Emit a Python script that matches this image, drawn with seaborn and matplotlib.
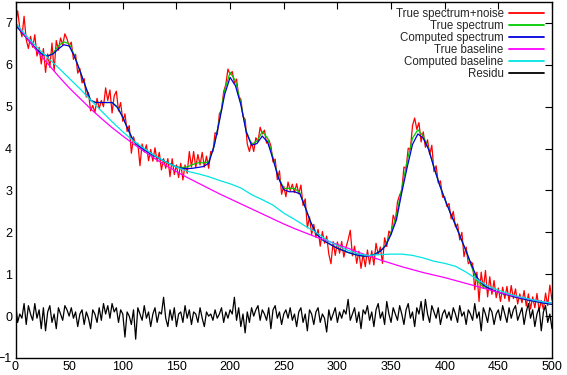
import numpy as np
import pandas as pd
import matplotlib
matplotlib.use("Agg")
import matplotlib.pyplot as plt
import seaborn as sns

sns.set_theme(style="white")
plt.rcParams["font.family"] = ["Liberation Sans", "DejaVu Sans"]

# sample positions (channels)
x_fine = np.arange(0, 501, 2)
x_mid = np.arange(0, 501, 5)
x_base = np.arange(0, 501, 10)

# true spectrum + noise, every 2 channels
noisy = [
    7.00, 7.29, 6.88, 6.67, 7.16, 6.60, 6.39, 6.68, 6.42, 6.72,
    6.21, 6.42, 6.02, 6.39, 5.82, 6.26, 5.94, 6.52, 5.86, 6.58,
    6.35, 6.64, 6.48, 6.74, 6.62, 6.45, 6.54, 6.13, 6.25, 5.80,
    5.91, 5.57, 5.67, 5.23, 5.34, 4.90, 5.03, 4.86, 5.20, 4.95,
    5.15, 5.00, 5.45, 5.15, 5.40, 4.85, 5.26, 5.37, 4.90, 5.10,
    4.65, 4.83, 4.41, 4.55, 3.89, 4.28, 4.08, 4.13, 3.59, 4.11,
    3.92, 4.09, 3.71, 3.98, 3.70, 4.02, 3.69, 3.91, 3.49, 3.76,
    3.53, 3.76, 3.33, 3.76, 3.38, 3.61, 3.31, 3.65, 3.25, 3.61,
    3.41, 3.93, 3.56, 3.93, 3.55, 3.86, 3.61, 3.91, 3.56, 3.82,
    3.53, 3.93, 3.93, 4.38, 4.33, 4.83, 4.92, 5.36, 5.53, 5.90,
    5.77, 5.84, 5.56, 5.66, 5.24, 5.18, 4.77, 4.70, 4.11, 3.93,
    4.15, 3.93, 4.26, 4.17, 4.51, 4.35, 4.44, 4.13, 4.21, 4.07,
    3.68, 3.75, 3.26, 3.47, 2.91, 3.10, 2.85, 3.20, 3.00, 3.15,
    2.95, 3.16, 2.92, 3.13, 2.64, 2.80, 2.11, 2.37, 1.95, 2.19,
    1.88, 2.07, 1.67, 2.02, 1.74, 1.91, 1.48, 1.25, 1.78, 1.45,
    1.77, 1.50, 1.78, 1.41, 1.64, 1.82, 2.05, 1.44, 1.67, 1.26,
    1.55, 1.14, 1.48, 1.18, 1.58, 1.24, 1.56, 1.22, 1.74, 1.47,
    1.65, 1.26, 1.87, 1.66, 2.03, 1.95, 2.41, 2.27, 2.73, 2.89,
    3.00, 3.56, 3.52, 4.01, 3.98, 4.55, 4.73, 4.46, 4.62, 4.16,
    4.40, 4.03, 4.21, 3.86, 4.08, 3.45, 3.59, 3.18, 3.23, 2.84,
    2.85, 2.62, 2.69, 2.32, 2.50, 2.13, 2.20, 1.82, 2.00, 1.42,
    1.65, 1.25, 1.30, 1.26, 0.63, 1.05, 0.35, 1.05, 0.66, 1.09,
    0.46, 0.94, 0.52, 0.85, 0.44, 0.67, 0.35, 0.69, 0.42, 0.71,
    0.35, 0.73, 0.42, 0.65, 0.29, 0.53, 0.32, 0.61, 0.24, 0.53,
    0.17, 0.46, 0.20, 0.54, 0.13, 0.37, 0.16, 0.55, 0.25, 0.74,
    0.38,
]

# true spectrum, every 5 channels
true_spec = [
    6.95, 6.80, 6.65, 6.50, 6.36, 6.25, 6.21, 6.28, 6.45, 6.55,
    6.50, 6.22, 5.86, 5.50, 5.15, 5.10, 5.10, 5.10, 5.10, 5.00,
    4.75, 4.45, 4.18, 4.06, 3.97, 3.89, 3.82, 3.75, 3.68, 3.62,
    3.56, 3.55, 3.56, 3.62, 3.66, 3.66, 3.68, 4.05, 4.68, 5.40,
    5.82, 5.62, 5.08, 4.42, 4.10, 4.18, 4.40, 4.25, 3.78, 3.32,
    3.05, 3.05, 3.05, 2.95, 2.60, 2.25, 1.98, 1.84, 1.76, 1.69,
    1.62, 1.57, 1.52, 1.48, 1.45, 1.43, 1.44, 1.48, 1.55, 1.70,
    2.00, 2.40, 3.05, 3.70, 4.25, 4.45, 4.30, 4.00, 3.55, 3.15,
    2.80, 2.48, 2.18, 1.86, 1.55, 1.18, 0.85, 0.72, 0.66, 0.61,
    0.57, 0.53, 0.50, 0.46, 0.43, 0.40, 0.37, 0.35, 0.32, 0.30,
    0.28,
]

# computed spectrum, every 5 channels
comp_spec = [
    6.95, 6.80, 6.65, 6.50, 6.36, 6.25, 6.21, 6.26, 6.38, 6.48,
    6.45, 6.20, 5.86, 5.50, 5.15, 5.10, 5.10, 5.10, 5.10, 4.98,
    4.75, 4.45, 4.18, 4.06, 3.97, 3.89, 3.82, 3.75, 3.68, 3.62,
    3.56, 3.53, 3.52, 3.53, 3.55, 3.57, 3.65, 4.05, 4.65, 5.30,
    5.70, 5.50, 5.05, 4.40, 4.08, 4.12, 4.30, 4.15, 3.75, 3.30,
    3.02, 2.97, 2.97, 2.92, 2.60, 2.25, 1.98, 1.84, 1.76, 1.69,
    1.62, 1.57, 1.52, 1.48, 1.45, 1.43, 1.44, 1.48, 1.55, 1.68,
    1.95, 2.30, 2.95, 3.55, 4.10, 4.35, 4.25, 3.98, 3.55, 3.15,
    2.80, 2.48, 2.18, 1.86, 1.55, 1.22, 0.93, 0.77, 0.68, 0.62,
    0.57, 0.53, 0.50, 0.46, 0.43, 0.40, 0.37, 0.35, 0.32, 0.30,
    0.28,
]

# baselines, every 10 channels
true_base = [
    7.00, 6.66, 6.33, 6.03, 5.73, 5.45, 5.20, 4.95, 4.72, 4.50,
    4.30, 4.11, 3.93, 3.76, 3.60, 3.45, 3.31, 3.18, 3.05, 2.92,
    2.80, 2.68, 2.56, 2.44, 2.32, 2.20, 2.09, 1.99, 1.89, 1.80,
    1.71, 1.62, 1.52, 1.43, 1.34, 1.26, 1.18, 1.11, 1.04, 0.98,
    0.92, 0.85, 0.78, 0.71, 0.64, 0.57, 0.51, 0.45, 0.40, 0.35,
    0.31,
]
comp_base = [
    7.00, 6.70, 6.42, 6.17, 5.93, 5.68, 5.43, 5.16, 4.90, 4.64,
    4.40, 4.18, 4.00, 3.83, 3.68, 3.56, 3.46, 3.40, 3.33, 3.24,
    3.16, 3.06, 2.90, 2.78, 2.65, 2.46, 2.31, 2.15, 2.00, 1.82,
    1.68, 1.57, 1.48, 1.45, 1.47, 1.48, 1.48, 1.45, 1.39, 1.31,
    1.26, 1.19, 1.05, 0.88, 0.72, 0.62, 0.53, 0.46, 0.40, 0.35,
    0.31,
]

# residual, every 2 channels
residu = [
    0.35, -0.15, 0.05, -0.05, 0.30, -0.20, 0.25, 0.05, -0.10, 0.30,
    -0.05, 0.15, -0.30, 0.20, -0.35, 0.10, 0.25, -0.15, 0.05, -0.30,
    0.20, 0.05, -0.10, 0.25, 0.15, 0.00, 0.20, -0.05, 0.10, -0.25,
    0.05, 0.15, -0.20, 0.10, -0.05, -0.30, 0.15, 0.05, -0.15, 0.20,
    -0.10, 0.30, 0.05, 0.25, -0.05, 0.30, 0.10, 0.20, -0.15, 0.15,
    0.05, -0.50, 0.10, 0.00, -0.20, 0.15, -0.55, 0.20, 0.05, -0.10,
    0.25, -0.05, 0.10, -0.25, 0.05, 0.20, -0.15, 0.10, 0.05, 0.45,
    -0.05, -0.25, 0.15, -0.10, 0.20, -0.25, 0.05, 0.10, -0.15, 0.25,
    -0.05, 0.15, -0.20, 0.10, 0.05, -0.15, 0.20, -0.05, -0.25, 0.10,
    0.00, 0.05, -0.10, 0.15, -0.05, 0.05, 0.20, -0.15, 0.10, -0.05,
    0.15, 0.05, 0.45, -0.10, 0.20, -0.25, 0.05, -0.40, 0.10, -0.15,
    0.20, 0.00, 0.15, 0.25, -0.10, 0.15, 0.05, -0.10, 0.20, -0.30,
    0.15, 0.25, -0.05, 0.10, -0.20, 0.05, 0.15, -0.05, 0.20, -0.10,
    0.05, -0.25, 0.10, 0.20, -0.15, 0.05, -0.35, 0.15, 0.05, -0.20,
    0.10, 0.20, -0.15, 0.05, -0.05, -0.38, 0.15, -0.10, 0.05, 0.20,
    -0.15, 0.10, -0.05, 0.15, 0.05, 0.40, -0.10, 0.05, 0.20, -0.15,
    0.10, -0.30, 0.15, 0.05, 0.25, -0.10, 0.10, -0.25, 0.15, 0.30,
    -0.05, 0.10, -0.20, 0.35, 0.05, -0.15, 0.20, 0.05, -0.10, 0.25,
    0.05, -0.20, 0.15, 0.30, -0.05, 0.10, -0.25, 0.20, 0.05, 0.35,
    -0.10, 0.40, 0.05, -0.15, 0.25, 0.10, -0.05, 0.20, -0.20, 0.05,
    0.15, -0.05, 0.10, -0.10, 0.20, 0.05, -0.15, 0.25, 0.00, 0.10,
    -0.20, 0.15, 0.05, -0.10, 0.30, -0.05, 0.10, -0.35, 0.20, 0.05,
    -0.15, 0.20, 0.10, -0.20, 0.05, 0.15, -0.10, 0.25, 0.05, -0.15,
    0.20, -0.05, 0.15, 0.25, -0.10, 0.05, 0.20, -0.20, 0.10, 0.30,
    -0.05, 0.15, -0.25, 0.05, 0.20, -0.35, 0.10, 0.25, -0.15, 0.05,
    -0.30,
]

fine = pd.DataFrame({"x": x_fine, "noisy": noisy, "residu": residu})
mid = pd.DataFrame({"x": x_mid, "true": true_spec, "comp": comp_spec})
base = pd.DataFrame({"x": x_base, "true": true_base, "comp": comp_base})

fig = plt.figure(figsize=(5.67, 3.75), dpi=100)
ax = fig.add_axes([15.5 / 567, 17 / 375, 536.5 / 567, 356 / 375])

lw = 0.9
sns.lineplot(data=fine, x="x", y="noisy", ax=ax, color="#ff0000", lw=lw, label="True spectrum+noise")
sns.lineplot(data=mid, x="x", y="true", ax=ax, color="#00cc00", lw=lw, label="True spectrum")
sns.lineplot(data=mid, x="x", y="comp", ax=ax, color="#0000dd", lw=lw, label="Computed spectrum")
sns.lineplot(data=base, x="x", y="true", ax=ax, color="#ff00ff", lw=lw, label="True baseline")
sns.lineplot(data=base, x="x", y="comp", ax=ax, color="#00e5e5", lw=lw, label="Computed baseline")
sns.lineplot(data=fine, x="x", y="residu", ax=ax, color="black", lw=lw, label="Residu")

ax.set_xlim(0, 500)
ax.set_ylim(-1, 7.5)
ax.set_xticks(range(0, 501, 50))
ax.set_yticks(range(-1, 8))
ax.set_xlabel("")
ax.set_ylabel("")
ax.tick_params(direction="in", length=5, width=0.8, top=True, right=True,
               labelsize=9, pad=2.5, colors="black")
for s in ax.spines.values():
    s.set_color("black")
    s.set_linewidth(1.0)

leg = ax.legend(loc="upper right", bbox_to_anchor=(0.985, 0.983), frameon=False,
                markerfirst=False, fontsize=8.3, handlelength=3.0, labelspacing=0.0,
                borderpad=0, borderaxespad=0, handletextpad=0.5)
for col in leg._legend_box.get_children()[1].get_children():
    col.align = "right"
for line in leg.get_lines():
    line.set_linewidth(1.3)

fig.savefig("out.png", dpi=100)
